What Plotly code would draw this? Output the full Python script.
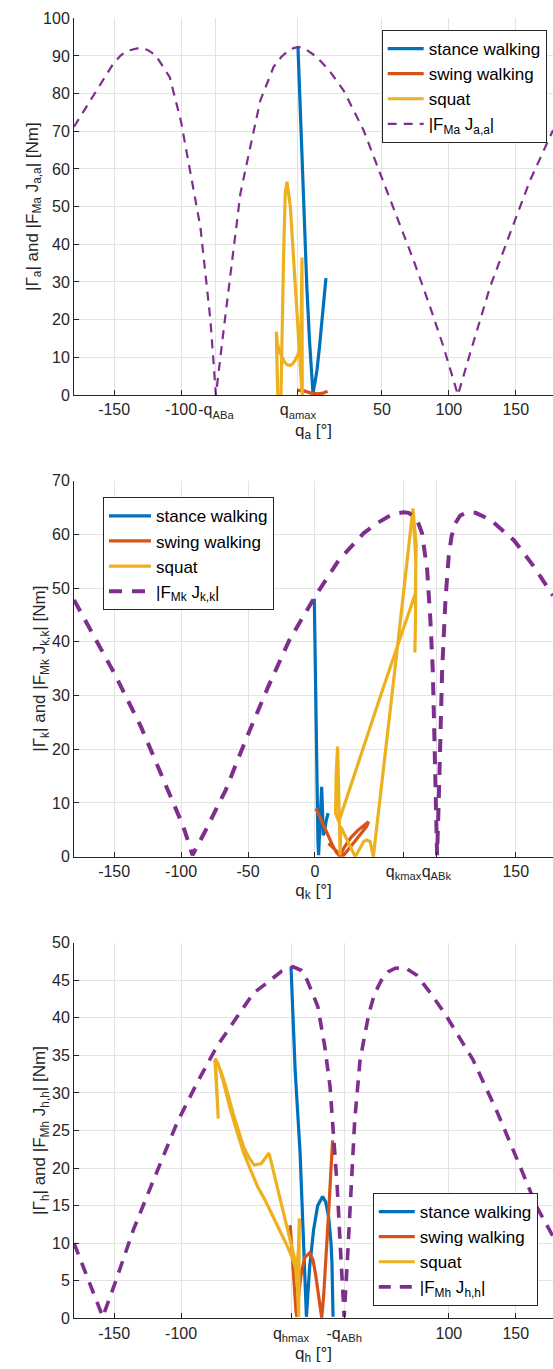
import plotly.graph_objects as go

# ---------------- data ----------------
# Ankle
ank_dash_x = [-180, -166.4, -158, -150.6, -145, -140, -131.4, -125, -119, -108.5, -100, -92, -85.6, -78.1, -74,
              -69, -63.2, -55.7, -48.3, -40.8, -30.9, -25, -20.9, -16, -12.2, -7, 1.5, 11.4, 21.3, 36.3, 48.7,
              61.2, 73.6, 86, 96, 103.4, 106.8, 115.9, 130.8, 145.7, 160.7, 177.8]
ank_dash_y = [71.2, 79.1, 84.0, 88.0, 90.2, 91.4, 92.1, 91.6, 90.2, 84.4, 72.5, 57.5, 44.6, 19.9, 0.0,
              15.0, 31.4, 53.5, 65.9, 78.2, 87.1, 89.8, 91.1, 92.1, 92.4, 91.8, 89.7, 85.8, 80.9, 70.3, 58.8,
              47.3, 35.8, 23.4, 12.8, 4.0, 0.0, 11.1, 28.7, 42.9, 57.0, 70.3]
ank_stance_x = [-12.7, -10.5, -8.3, -6.0, -4.0, -2.6, -1.5, 0.0, 1.5, 3.3, 5.2, 6.8, 8.2]
ank_stance_y = [92.4, 70.0, 48.0, 28.0, 14.0, 5.5, 0.5, 3.3, 6.6, 12.5, 19.9, 25.5, 31.0]
ank_swing_x = [-13.4, -8.0, -3.0, 2.0, 6.0, 9.4]
ank_swing_y = [1.3, 1.1, 0.5, 0.3, 0.5, 1.0]
ank_squat_x = [-27.8, -28.9, -28.2, -26.5, -24.6, -22.5, -20.5, -18.5, -16.5, -14.5, -12.5, -11.0, -10.3, -9.7,
               -9.6, -9.5, -10.5, -11.5, -13.4, -16.0, -18.4, -20.9, -22.2, -23.4, -24.6, -25.4]
ank_squat_y = [0.0, 16.8, 14.0, 11.5, 10.2, 8.6, 8.0, 7.8, 8.3, 9.4, 11.0, 13.3, 20.0, 36.5,
               20.0, 0.0, 5.0, 11.0, 22.5, 37.6, 50.0, 56.6, 53.5, 37.6, 19.9, 0.0]
ank_tickvals = [-150, -100, -74, -12.7, 50, 100, 150]
ank_ticktext = ["-150", "-100", "-q<sub>ABa</sub>", "q<sub>amax</sub>", "50", "100", "150"]

# Knee
knee_dash_x = [-180, -165, -149.8, -130, -114.2, -98.3, -91.5, -82.5, -66.7, -50.8, -35, -19.2, 0, 17.8, 36.3,
               46, 54.8, 61, 66.2, 70, 73.7, 77, 80, 83.8, 86.2, 88, 89.2, 90.7, 91.2, 92.4, 93.7, 95, 97.5,
               99.9, 102, 104.9, 108.5, 113.7, 120, 131.1, 148.6, 163.5, 177.8]
knee_dash_y = [47.8, 41.0, 34.1, 24.2, 14.9, 5.6, 0.3, 4.5, 12.4, 22.3, 31.6, 40.3, 48.4, 55.2, 60.2,
               62.0, 63.3, 63.9, 64.1, 64.0, 63.3, 62.2, 60.2, 53.4, 44.1, 34.7, 22.3, 9.9, 0.3, 9.9, 22.3, 34.7,
               47.9, 55.9, 59.6, 62.1, 63.5, 64.1, 64.0, 62.7, 58.9, 54.0, 48.6]
knee_stance_x = [-0.5, 0.2, 0.9, 1.6, 2.2, 2.7, 3.5, 4.3, 5.0, 5.6, 6.2, 7.0, 8.2, 9.8]
knee_stance_y = [48.0, 35.0, 22.0, 10.0, 3.0, 0.3, 6.0, 11.0, 13.0, 9.0, 4.0, 4.5, 6.5, 8.1]
knee_swing_x = [0.7, 5.0, 9.0, 13.0, 16.0, 18.5, 22.0, 27.0, 32.0, 36.0, 40.0, 38.5, 33.0, 27.0, 21.5, 19.5,
                15.0, 10.1]
knee_swing_y = [9.0, 6.5, 4.2, 2.2, 0.8, 0.1, 1.8, 3.6, 4.9, 5.8, 6.5, 5.6, 3.8, 2.0, 0.3, 0.1,
                1.3, 2.5]
knee_squat_x = [74.6, 75.1, 75.3, 73.2, 60.0, 48.8, 44.2, 43.6, 41.3, 38.5, 36.3, 33.0, 30.1, 25.0, 19.3,
                18.8, 18.3, 17.5, 16.9, 15.8, 15.4, 17.8, 48.8, 75.0, 75.6, 73.4]
knee_squat_y = [38.0, 44.0, 55.0, 64.8, 35.5, 10.6, 0.3, 0.0, 2.8, 3.1, 2.8, 1.3, 0.0, 2.6, 5.6,
                0.3, 6.5, 14.0, 20.5, 15.0, 8.1, 6.5, 29.8, 49.0, 58.0, 64.0]
knee_tickvals = [-150, -100, -50, 0, 66.2, 90.7, 150]
knee_ticktext = ["-150", "-100", "-50", "0", "q<sub>kmax</sub>", "q<sub>ABk</sub>", "150"]

# Hip
hip_dash_x = [-180, -158.5, -149.3, -135.6, -120.6, -103.1, -88.2, -73.2, -58.3, -45.9, -34.8, -25, -16.4,
              -10, -5.8, 2.1, 7.3, 11.3, 13.9, 16.6, 19.2, 21.8, 24.5, 27.1, 29.7, 33.7, 40.3, 44.5, 49.6, 54.5,
              60, 67, 75.9, 85, 96.9, 118.1, 136.5, 152.3, 165.5, 177.8]
hip_dash_y = [10.0, 0.2, 4.7, 11.8, 18.4, 26.0, 31.3, 36.2, 40.1, 43.3, 44.8, 46.2, 46.8,
              46.3, 45.0, 41.5, 36.2, 30.8, 24.2, 17.5, 8.7, 0.2, 8.7, 17.5, 26.4, 34.4, 40.6, 43.2, 45.0, 46.1,
              46.6, 46.7, 45.7, 43.6, 40.6, 34.4, 27.3, 20.6, 14.9, 10.9]
hip_stance_x = [-17.9, -14.8, -11.1, -8.5, -6.4, -4.0, -1.0, 2.0, 5.7, 8.0, 10.2, 12.0, 12.7, 13.5]
hip_stance_y = [46.8, 33.0, 22.0, 8.5, 0.2, 6.8, 11.8, 15.0, 16.2, 15.5, 13.5, 10.0, 7.3, 0.2]
hip_swing_x = [-18.5, -17.0, -15.5, -14.2, -13.5, -12.0, -10.0, -7.5, -4.0, -1.5, 0.5, 2.5, 4.0, 5.0, 6.5,
               8.5, 10.5, 12.0, 13.2]
hip_swing_y = [12.4, 8.0, 4.0, 1.0, 0.2, 3.5, 6.3, 8.1, 8.7, 7.8, 5.8, 3.0, 1.0, 0.1, 3.0,
               8.5, 15.0, 20.0, 23.7]
hip_squat_x = [-72.3, -73.6, -74.4, -70.5, -66.5, -61.2, -57.0, -53.3, -49.0, -45.4, -40.1, -34.3, -27.0,
               -20.0, -15.5, -13.0, -12.2, -11.9, -11.7, -12.4, -13.8, -17.5, -21.7, -27.0, -32.2, -37.5,
               -42.8, -48.0, -53.3, -58.5, -63.8, -68.5, -72.5, -74.8, -73.6, -72.3]
hip_squat_y = [26.6, 31.5, 34.6, 33.0, 30.8, 27.3, 24.8, 22.8, 21.3, 20.4, 20.6, 22.0, 16.6,
               11.5, 8.2, 4.0, 0.2, 7.0, 13.3, 9.0, 6.4, 8.3, 10.0, 12.0, 14.0, 15.8,
               17.5, 19.8, 22.0, 25.0, 28.2, 31.5, 34.0, 34.4, 30.0, 27.0]
hip_tickvals = [-150, -100, -17.9, 21.8, 100, 150]
hip_ticktext = ["-150", "-100", "q<sub>hmax</sub>", "-q<sub>ABh</sub>", "100", "150"]

series_names = ["stance walking", "swing walking", "squat"]

# ---------------- styles ----------------
BLUE, ORANGE, YELLOW, PURPLE = "#0072BD", "#D95319", "#EDB120", "#7E2F8E"
FONT = "Liberation Sans, Arial, sans-serif"
AXC = "#262626"
H = 1369.0


def dom(top_px, bot_px):
    return [(H - bot_px) / H, (H - top_px) / H]


fig = go.Figure()

panels = [
    dict(sx=ank_stance_x, sy=ank_stance_y, wx=ank_swing_x, wy=ank_swing_y, qx=ank_squat_x, qy=ank_squat_y,
         dx=ank_dash_x, dy=ank_dash_y, dname="|F<sub>Ma</sub> J<sub>a,a</sub>|", dw=2.2, dd="9px,7px"),
    dict(sx=knee_stance_x, sy=knee_stance_y, wx=knee_swing_x, wy=knee_swing_y, qx=knee_squat_x, qy=knee_squat_y,
         dx=knee_dash_x, dy=knee_dash_y, dname="|F<sub>Mk</sub> J<sub>k,k</sub>|", dw=4.0, dd="13px,10px"),
    dict(sx=hip_stance_x, sy=hip_stance_y, wx=hip_swing_x, wy=hip_swing_y, qx=hip_squat_x, qy=hip_squat_y,
         dx=hip_dash_x, dy=hip_dash_y, dname="|F<sub>Mh</sub> J<sub>h,h</sub>|", dw=3.6, dd="12px,9px"),
]

for i, p in enumerate(panels):
    sfx = "" if i == 0 else str(i + 1)
    xa, ya, lg = "x" + sfx, "y" + sfx, "legend" + sfx
    for (xx, yy, nm, col) in [(p["sx"], p["sy"], series_names[0], BLUE),
                              (p["wx"], p["wy"], series_names[1], ORANGE),
                              (p["qx"], p["qy"], series_names[2], YELLOW)]:
        fig.add_trace(go.Scatter(x=xx, y=yy, name=nm, mode="lines", xaxis=xa, yaxis=ya, legend=lg,
                                 line=dict(color=col, width=3.2)))
    fig.add_trace(go.Scatter(x=p["dx"], y=p["dy"], name=p["dname"], mode="lines", xaxis=xa, yaxis=ya,
                             legend=lg, line=dict(color=PURPLE, width=p["dw"], dash=p["dd"])))

common_x = dict(range=[-180, 177.8], showgrid=True, gridcolor="#e3e3e3", gridwidth=1, zeroline=False,
                showline=True, linecolor=AXC, linewidth=1, ticks="inside", ticklen=5, tickcolor=AXC,
                tickfont=dict(family=FONT, size=16, color=AXC), tickmode="array", tickangle=0,
                automargin=False)
common_y = dict(showgrid=True, gridcolor="#e3e3e3", gridwidth=1, zeroline=False,
                showline=True, linecolor=AXC, linewidth=1, ticks="inside", ticklen=5, tickcolor=AXC,
                tickfont=dict(family=FONT, size=16, color=AXC), automargin=False)
title_font = dict(family=FONT, size=17, color=AXC)

legend_common = dict(bgcolor="white", bordercolor=AXC, borderwidth=1,
                     font=dict(family=FONT, size=17, color="black"),
                     xanchor="left", tracegroupgap=0, itemwidth=36)

fig.update_layout(
    width=553, height=1369,
    margin=dict(l=74, r=0, t=0, b=0),
    paper_bgcolor="white", plot_bgcolor="white",
    showlegend=True,
    xaxis=dict(common_x, domain=[0, 1], anchor="y", tickvals=ank_tickvals, ticktext=ank_ticktext,
               title=dict(text="q<sub>a</sub> [°]", font=title_font, standoff=2)),
    yaxis=dict(common_y, domain=dom(18.3, 395), anchor="x", range=[0, 100], dtick=10,
               title=dict(text="|Γ<sub>a</sub>| and |F<sub>Ma</sub> J<sub>a,a</sub>| [Nm]", font=title_font,
                          standoff=0)),
    xaxis2=dict(common_x, domain=[0, 1], anchor="y2", tickvals=knee_tickvals, ticktext=knee_ticktext,
                title=dict(text="q<sub>k</sub> [°]", font=title_font, standoff=2)),
    yaxis2=dict(common_y, domain=dom(480.6, 856.7), anchor="x2", range=[0, 70], dtick=10,
                title=dict(text="|Γ<sub>k</sub>| and |F<sub>Mk</sub> J<sub>k,k</sub>| [Nm]", font=title_font,
                           standoff=0)),
    xaxis3=dict(common_x, domain=[0, 1], anchor="y3", tickvals=hip_tickvals, ticktext=hip_ticktext,
                title=dict(text="q<sub>h</sub> [°]", font=title_font, standoff=2)),
    yaxis3=dict(common_y, domain=dom(942.7, 1318.3), anchor="x3", range=[0, 50], dtick=5,
                title=dict(text="|Γ<sub>h</sub>| and |F<sub>Mh</sub> J<sub>h,h</sub>| [Nm]", font=title_font,
                           standoff=0)),
    legend=dict(legend_common, x=(381.7 - 74) / 479, y=(H - 30) / H, yanchor="top"),
    legend2=dict(legend_common, x=(103 - 74) / 479, y=(H - 497.3) / H, yanchor="top",
                 itemwidth=42, entrywidth=160, entrywidthmode="pixels"),
    legend3=dict(legend_common, x=(372.8 - 74) / 479, y=(H - 1306) / H, yanchor="bottom"),
)

fig.write_html("out.html")
